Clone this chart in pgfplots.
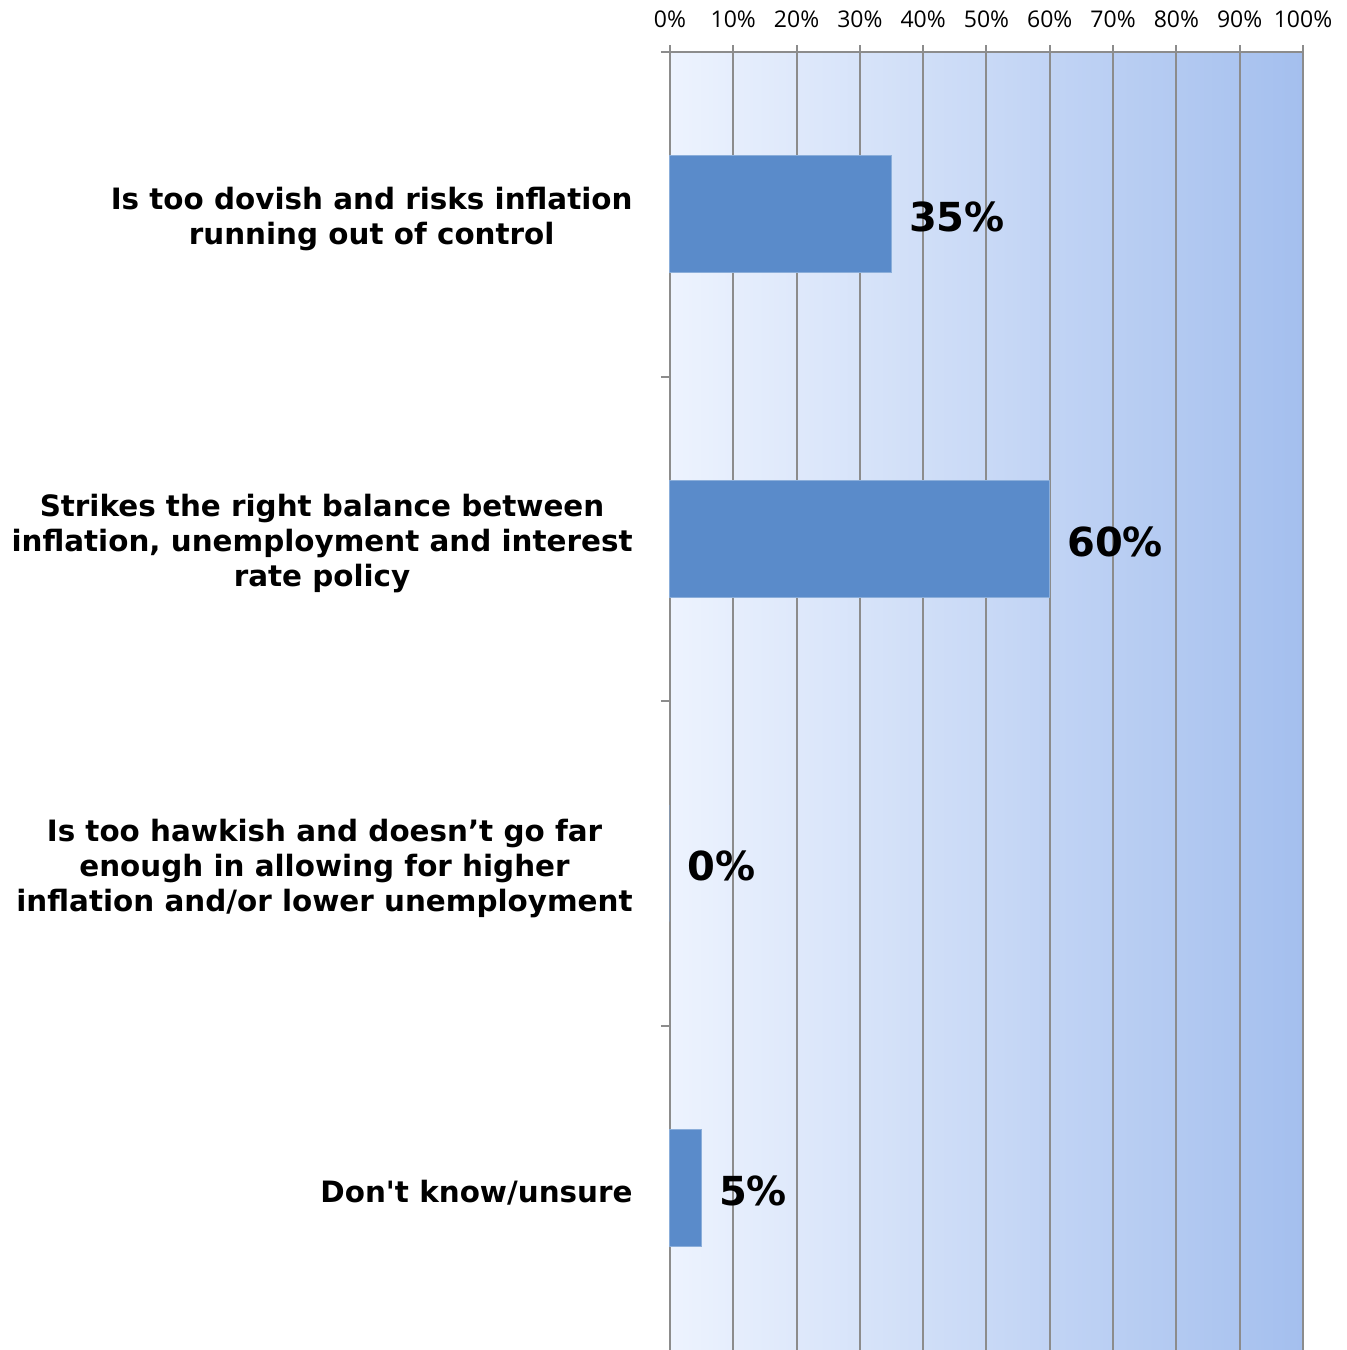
\documentclass[border=0pt]{standalone}
\usepackage{fontspec}
\setmainfont{DejaVu Sans}
\newfontfamily\tickfont{Open Sans}
\usepackage{pgfplots}
\pgfplotsset{compat=1.18}
\definecolor{barblue}{RGB}{90,139,202}
\definecolor{gridgray}{RGB}{140,140,140}
\definecolor{bgleft}{RGB}{237,243,254}
\definecolor{bgmid}{RGB}{208,222,249}
\definecolor{bgright}{RGB}{164,191,238}
\begin{document}
\begin{tikzpicture}
\begin{axis}[
  xbar,
  scale only axis,
  width=316.5pt, height=649pt,
  xmin=0, xmax=100,
  ymin=-0.5, ymax=3.5,
  y dir=reverse,
  bar width=0.36,
  axis background/.style={left color=bgleft, middle color=bgmid, right color=bgright},
  axis x line*=top,
  axis y line*=left,
  x axis line style={-, draw=gridgray, line width=1pt},
  y axis line style={-, draw=gridgray, line width=1pt},
  xtick={0,10,...,100},
  xticklabel={\pgfmathprintnumber{\tick}\%},
  xticklabel style={font=\tickfont\fontsize{11.5}{13}\selectfont, inner sep=0pt, yshift=8.5pt},
  /pgf/number format/assume math mode=true,
  x tick style={draw=gridgray, line width=1pt},
  tick align=outside,
  major tick length=3.5pt,
  xmajorgrids,
  grid style={draw=gridgray, line width=1pt},
  ytick={0,1,2,3},
  y tick style={draw=none},
  yticklabels={{Is too dovish and risks inflation\\running out of control},
               {Strikes the right balance between\\inflation, unemployment and interest\\rate policy},
               {Is too hawkish and doesn’t go far\\enough in allowing for higher\\inflation and/or lower unemployment},
               {Don\textquotesingle t know/unsure}},
  yticklabel style={font=\bfseries\fontsize{14.7}{17.5}\selectfont, align=center, anchor=east, inner sep=0pt, xshift=-15pt, yshift=-2.5pt},
  extra y ticks={-0.5,0.5,1.5,2.5},
  extra y tick labels={},
  extra y tick style={grid=none, y tick style={draw=gridgray, line width=1pt}, major tick length=4.5pt},
  nodes near coords={\pgfmathprintnumber{\pgfplotspointmeta}\%},
  point meta=x,
  nodes near coords style={font=\bfseries\fontsize{20}{24}\selectfont, anchor=west, inner sep=0pt, xshift=8.5pt, yshift=-1.5pt},
  clip=false,
]
\addplot[fill=barblue, draw=barblue!70!white, line width=0.5pt] coordinates {(35,0) (60,1) (0,2) (5,3)};
\coordinate (bl) at (axis cs:0,3.5);
\coordinate (tr) at (axis cs:100,-0.5);
\end{axis}
\pgfresetboundingbox
\useasboundingbox ([xshift=-335pt]bl) rectangle ([xshift=21.5pt, yshift=26pt]tr);
\end{tikzpicture}
\end{document}
